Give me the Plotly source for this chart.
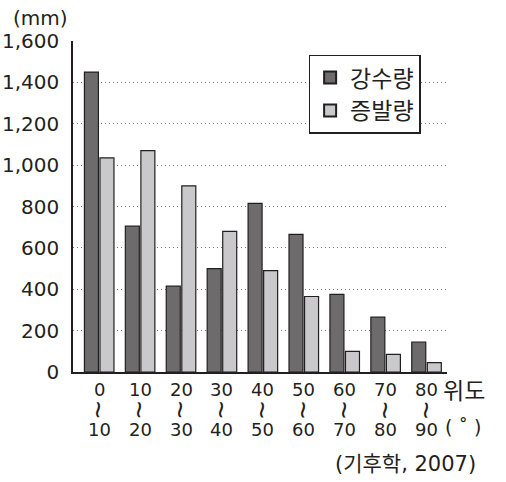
import plotly.graph_objects as go

# Data
lat_start = ["0", "10", "20", "30", "40", "50", "60", "70", "80"]
lat_end = ["10", "20", "30", "40", "50", "60", "70", "80", "90"]
precipitation = [1450, 705, 415, 500, 815, 665, 375, 265, 145]
evaporation = [1035, 1070, 900, 680, 490, 365, 100, 85, 45]
series_names = ["강수량", "증발량"]
y_ticks = [0, 200, 400, 600, 800, 1000, 1200, 1400, 1600]
y_tick_text = ["0", "200", "400", "600", "800", "1,000", "1,200", "1,400", "1,600"]

FONT = "DejaVu Sans, Noto Sans CJK KR, sans-serif"
KFONT = "Noto Sans CJK KR, DejaVu Sans, sans-serif"
INK = "#231f20"

xs = list(range(len(lat_start)))

fig = go.Figure()
fig.add_trace(go.Bar(x=xs, y=precipitation, name=series_names[0],
                     marker=dict(color="#6d6b6b", line=dict(color=INK, width=1.2))))
fig.add_trace(go.Bar(x=xs, y=evaporation, name=series_names[1],
                     marker=dict(color="#c9c9cb", line=dict(color=INK, width=1.2))))

annotations = []
for i in xs:
    annotations.append(dict(x=i, y=-0.0514, xref="x", yref="paper", text=lat_start[i],
                            showarrow=False, yanchor="middle", xanchor="center",
                            font=dict(family=FONT, size=18, color=INK)))
    annotations.append(dict(x=i, y=-0.115, xref="x", yref="paper", text="~",
                            textangle=90,
                            showarrow=False, yanchor="middle", xanchor="center",
                            font=dict(family="Liberation Sans", size=30, color=INK)))
    annotations.append(dict(x=i, y=-0.175, xref="x", yref="paper", text=lat_end[i],
                            showarrow=False, yanchor="middle", xanchor="center",
                            font=dict(family=FONT, size=18, color=INK)))
annotations += [
    dict(x=1.045, y=-0.0514, xref="paper", yref="paper", text="위도", showarrow=False,
         yanchor="middle", xanchor="center", font=dict(family=KFONT, size=23, color=INK)),
    dict(x=1.042, y=-0.166, xref="paper", yref="paper", text="( ˚ )", showarrow=False,
         yanchor="middle", xanchor="center", font=dict(family=FONT, size=19, color=INK)),
    dict(x=0.890, y=-0.278, xref="paper", yref="paper", text="(기후학, 2007)", showarrow=False,
         yanchor="middle", xanchor="center", font=dict(family=FONT, size=21, color=INK)),
    dict(x=-0.088, y=1.07, xref="paper", yref="paper", text="(mm)", showarrow=False,
         yanchor="middle", xanchor="center", font=dict(family=FONT, size=20, color=INK)),
]

fig.update_layout(
    width=506, height=482,
    margin=dict(l=73, r=59, t=41, b=110, autoexpand=False),
    paper_bgcolor="white", plot_bgcolor="white",
    barmode="group", bargap=0.24, bargroupgap=0.1,
    showlegend=True,
    legend=dict(x=0.63, y=0.959, xanchor="left", yanchor="top",
                bordercolor=INK, borderwidth=1.5, bgcolor="white",
                itemsizing="constant",
                font=dict(family=KFONT, size=23, color=INK)),
    annotations=annotations,
)
fig.update_xaxes(range=[-0.64, 8.5], showticklabels=False, showgrid=False, automargin=False,
                 showline=True, linecolor=INK, linewidth=1.5, ticks="", zeroline=False)
fig.update_yaxes(range=[0, 1600], tickvals=y_ticks, ticktext=y_tick_text, automargin=False,
                 showline=True, linecolor=INK, linewidth=1.5, ticks="",
                 ticklabelstandoff=8,
                 showgrid=True, gridcolor="#7a7a7a", griddash="1px,3px", gridwidth=1,
                 zeroline=False,
                 tickfont=dict(family=FONT, size=20, color=INK))

fig.write_html("out.html", config={"displayModeBar": False},
               post_script="document.body.style.margin='0';document.body.style.padding='0';")
